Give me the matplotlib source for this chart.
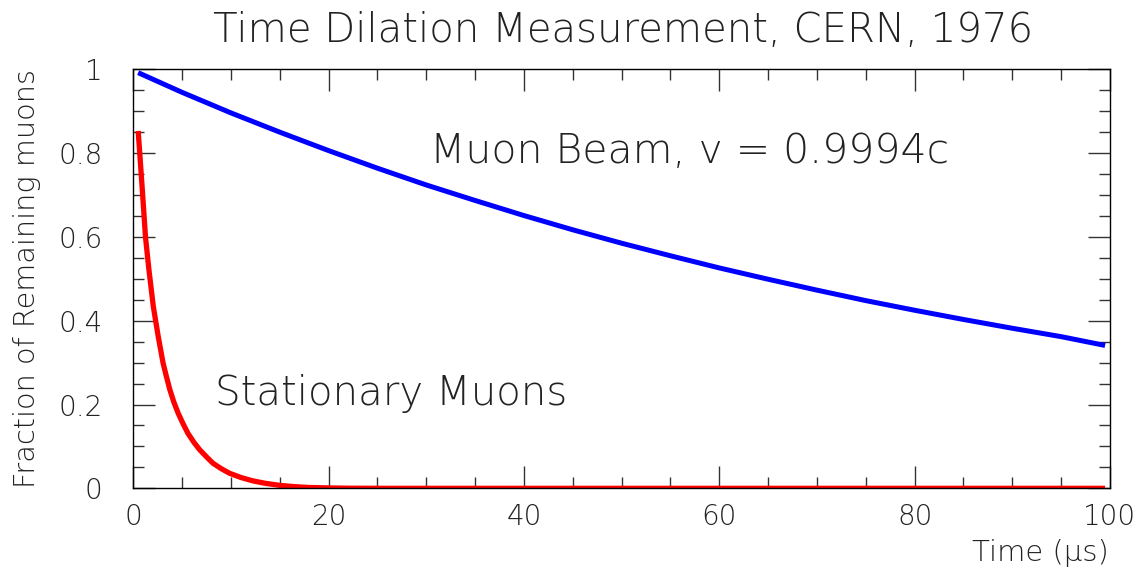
import matplotlib
matplotlib.use("Agg")
import matplotlib.pyplot as plt
from matplotlib.ticker import MultipleLocator

# values
beam_t = [0.5, 5, 10, 15, 20, 25, 30, 35, 40, 45, 50, 55, 60, 65, 70, 75, 80, 85, 90, 95, 99.5]
beam_frac = [0.992, 0.945, 0.896, 0.850, 0.806, 0.764, 0.724, 0.687, 0.651, 0.617, 0.585,
             0.555, 0.526, 0.499, 0.473, 0.448, 0.425, 0.403, 0.382, 0.362, 0.341]

rest_t = [0.5, 0.9, 1.25, 1.6, 2.05, 2.55, 3.05, 3.4, 3.75, 4.15, 4.6, 5.1, 5.6, 6.2, 6.8,
          7.5, 8.15, 9.0, 9.85, 11.0, 12.2, 13.5, 15.0, 16.5, 18.0, 20.0, 22.0, 25.0,
          30, 40, 50, 60, 70, 80, 90, 99.5]
rest_frac = [0.853, 0.721, 0.600, 0.522, 0.434, 0.363, 0.299, 0.266, 0.235, 0.206, 0.179,
             0.154, 0.131, 0.110, 0.092, 0.075, 0.060, 0.047, 0.036, 0.026, 0.018, 0.012,
             0.007, 0.004, 0.002, 0.001, 0.0003, 0.0, 0.0, 0.0, 0.0, 0.0, 0.0, 0.0, 0.0, 0.0]

title = "Time Dilation Measurement, CERN, 1976"
x_label = "Time (μs)"
y_label = "Fraction of Remaining muons"
beam_text = "Muon Beam, v = 0.9994c"
rest_text = "Stationary Muons"

plt.rcParams['font.family'] = ['DejaVu Sans']
plt.rcParams['font.weight'] = 'light'

fig = plt.figure(figsize=(11.47, 5.71), dpi=100)
ax = fig.add_axes([0.1162, 0.1448, 0.9677 - 0.1162, 0.8786 - 0.1448])

ax.plot(beam_t, beam_frac, color='#0000ff', lw=3.6, solid_capstyle='butt')
ax.plot(rest_t, rest_frac, color='#ff0000', lw=3.8, solid_capstyle='butt')

ax.set_xlim(0, 100)
ax.set_ylim(0, 1)
ax.xaxis.set_major_locator(MultipleLocator(20))
ax.xaxis.set_minor_locator(MultipleLocator(5))
ax.yaxis.set_major_locator(MultipleLocator(0.2))
ax.yaxis.set_minor_locator(MultipleLocator(0.05))
ax.set_yticks([0, 0.2, 0.4, 0.6, 0.8, 1.0])
ax.set_yticklabels(["0", "0.2", "0.4", "0.6", "0.8", "1"])

ax.tick_params(which='both', direction='in', top=True, right=True, color='#333333', width=1)
ax.tick_params(which='major', length=15.5)
ax.tick_params(which='minor', length=7.7)
ax.tick_params(axis='x', which='major', labelsize=20, pad=10.5, labelcolor='#222222')
ax.tick_params(axis='y', which='major', labelsize=20, pad=22, labelcolor='#222222')
for sp in ax.spines.values():
    sp.set_linewidth(1.0)

fig.text(0.543, 1 - 42 / 571, title, ha='center', va='baseline', fontsize=29, color='#222222')
fig.text(27 / 1147, 0.8786, y_label, rotation=90, ha='center', va='top', fontsize=20.7, color='#222222')
fig.text(0.9665, 1 - 561 / 571, x_label, ha='right', va='baseline', fontsize=21, color='#222222')

ax.text(30.4, 0.776, beam_text, fontsize=29.5, color='#222222', va='baseline')
ax.text(8.4, 0.199, rest_text, fontsize=29, color='#222222', va='baseline')

fig.savefig("out.png", dpi=100)
